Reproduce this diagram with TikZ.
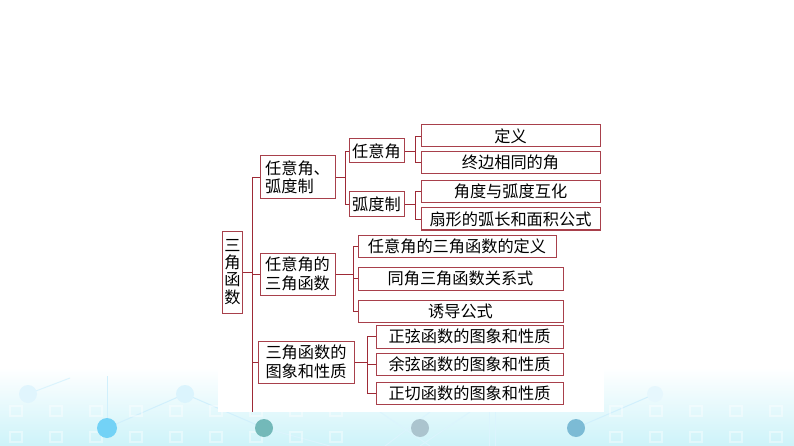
\documentclass[tikz,border=0pt]{standalone}
\usepackage{fontspec}
\setmainfont{Noto Sans CJK SC}
\begin{document}
\begin{tikzpicture}[x=1pt,y=-1pt,
  ln/.style={draw=linered,line width=0.9pt},
  bx/.style={draw=boxred,line width=1pt,inner sep=0pt,fill=white,
    font=\fontsize{16.2}{18.5}\selectfont,text=black},
  sq/.style={draw=white,line width=1.2pt,opacity=0.4}]
\definecolor{linered}{HTML}{9E2A36}
\definecolor{boxred}{HTML}{A8404B}
\definecolor{bgcyan}{HTML}{CDF3F9}
% background
\useasboundingbox (0,0) rectangle (794,446);
\fill[white] (0,0) rectangle (794,446);
\shade[top color=white,bottom color=bgcyan] (0,368) rectangle (794,446);
% faint network pattern
\begin{scope}[line width=1pt]
\draw[cyan!18] (107,428) -- (107,376);
\draw[cyan!18] (107,428) -- (185,394) -- (264,428);
\draw[cyan!14] (28,394) -- (70,378);
\draw[cyan!18] (576,428) -- (655,394);
\draw[cyan!14] (264,428) -- (330,446);
\draw[cyan!14] (380,412) -- (430,446);
\draw[cyan!14] (430,412) -- (385,446);
\draw[cyan!14] (470,412) -- (420,446);
\draw[cyan!14] (489,412) -- (489,446);
\draw[cyan!14] (495,412) -- (495,446);
\foreach \x in {10,50,90,130,170,210,250,290,330,610,650,690,730,770}{
  \draw[sq] (\x,416) rectangle ++(12,-10);
  \draw[sq] (\x,442) rectangle ++(12,-10);}
\end{scope}
\fill[cyan!12] (28,394) circle (9);
\fill[cyan!14] (185,394) circle (9);
\fill[cyan!10] (655,394) circle (8);
\fill[cyan!55] (107,428) circle (10);
\fill[teal!55] (264,428) circle (9);
\fill[cyan!30!gray!60] (420,428) circle (9);
\fill[cyan!45!teal!60] (576,428) circle (9);
% white panel
\fill[white] (218,300) rectangle (604,412);
% nodes
\node[bx,minimum width=20,minimum height=82,align=center,
  font=\fontsize{16.2}{17.3}\selectfont] (root) at (232.5,272) {三\\角\\函\\数};
\node[bx,minimum width=75,minimum height=43,align=left] (A) at (297.5,177.5) {任意角、\\弧度制};
\node[bx,minimum width=75,minimum height=42,align=left] (B) at (297.5,274) {任意角的\\三角函数};
\node[bx,minimum width=96,minimum height=42,align=left] (C) at (306,362) {三角函数的\\图象和性质};
\node[bx,minimum width=55,minimum height=24] (A1) at (376.5,151) {任意角};
\node[bx,minimum width=55,minimum height=25] (A2) at (376.5,204.5) {弧度制};
\node[bx,minimum width=179,minimum height=22] (A11) at (510.5,136) {定义};
\node[bx,minimum width=179,minimum height=22] (A12) at (510.5,162.5) {终边相同的角};
\node[bx,minimum width=179,minimum height=22] (A21) at (510.5,191.5) {角度与弧度互化};
\node[bx,minimum width=179,minimum height=22] (A22) at (510.5,219) {扇形的弧长和面积公式};
\node[bx,minimum width=198,minimum height=22] (B1) at (457,246) {任意角的三角函数的定义};
\node[bx,minimum width=205,minimum height=23] (B2) at (460.5,278.5) {同角三角函数关系式};
\node[bx,minimum width=205,minimum height=22] (B3) at (460.5,311) {诱导公式};
\node[bx,minimum width=187,minimum height=23] (C1) at (469.5,336.5) {正弦函数的图象和性质};
\node[bx,minimum width=187,minimum height=22] (C2) at (469.5,364) {余弦函数的图象和性质};
\node[bx,minimum width=187,minimum height=22] (C3) at (469.5,393) {正切函数的图象和性质};
% bracket x positions
\coordinate (xt) at (252,0);
\coordinate (tend) at (252,412);
\coordinate (xa) at (345,0);
\coordinate (xa2) at (415,0);
\coordinate (xb) at (353,0);
\coordinate (xc) at (367,0);
% trunk
\draw[ln] (A.west -| xt) -- (tend);
\draw[ln] (root.east) -- (root.east -| xt);
\draw[ln] (A.west) -- (A.west -| xt);
\draw[ln] (B.west) -- (B.west -| xt);
\draw[ln] (C.west) -- (C.west -| xt);
% A bracket
\draw[ln] (A.east) -- (A.east -| xa);
\draw[ln] (A1.west) -- (A1.west -| xa) -- (A2.west -| xa) -- (A2.west);
\draw[ln] (A1.east) -- (A1.east -| xa2);
\draw[ln] (A11.west) -- (A11.west -| xa2) -- (A12.west -| xa2) -- (A12.west);
\draw[ln] (A2.east) -- (A2.east -| xa2);
\draw[ln] (A21.west) -- (A21.west -| xa2) -- (A22.west -| xa2) -- (A22.west);
% B bracket
\draw[ln] (B.east) -- (B.east -| xb);
\draw[ln] (B1.west) -- (B1.west -| xb) -- (B3.west -| xb) -- (B3.west);
\draw[ln] (B2.west) -- (B2.west -| xb);
% C bracket
\draw[ln] (C.east) -- (C.east -| xc);
\draw[ln] (C1.west) -- (C1.west -| xc) -- (C3.west -| xc) -- (C3.west);
\draw[ln] (C2.west) -- (C2.west -| xc);
\end{tikzpicture}
\end{document}
